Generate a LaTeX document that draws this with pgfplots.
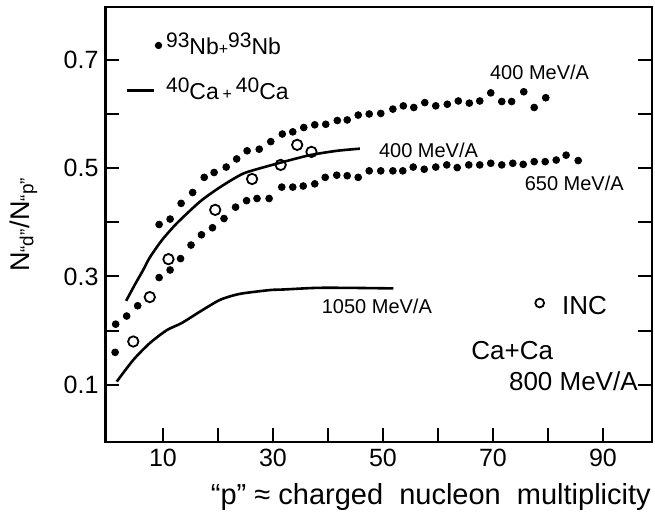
\documentclass[border=0pt]{standalone}
\usepackage{pgfplots}
\pgfplotsset{compat=1.18}
\usepackage{fontspec}
\setmainfont{Liberation Sans}
\newcommand\sups[1]{\raisebox{0.6ex}{\fontsize{10.5}{12}\selectfont #1}}
\begin{document}
\begin{tikzpicture}
\useasboundingbox (-52.75pt,-40.5pt) rectangle (274.75pt,221pt);
\begin{axis}[
  at={(0,0)}, anchor=south west,
  scale only axis, width=273.4pt, height=217.5pt,
  xmin=-0.45, xmax=98.97, ymin=-0.0055, ymax=0.7975,
  axis line style={line width=1.2pt},
  xtick={10,20,30,40,50,60,70,80,90}, xticklabels={10,,30,,50,,70,,90},
  ytick={0.1,0.2,0.3,0.4,0.5,0.6,0.7}, yticklabels={0.1,,0.3,,0.5,,0.7},
  xtick pos=left, ytick pos=both, tick align=inside,
  major tick length=7pt,
  every tick/.style={black, line width=1pt},
  ticklabel style={font=\fontsize{12.5}{14}\selectfont},
  /pgf/number format/assume math mode=true,
  xlabel={``p'' ≈ charged\ \ nucleon\ \ multiplicity},
  every axis x label/.style={at={([yshift=-27.5pt]rel axis cs:0.595,0)}, anchor=center, font=\fontsize{14.5}{16}\selectfont},
  ylabel={N\textsubscript{``d''}/N\textsubscript{``p''}},
  every axis y label/.style={at={([xshift=-41pt]rel axis cs:0,0.5)}, anchor=center, rotate=90, font=\fontsize{13.5}{15}\selectfont},
  legend style={at={(axis cs:2.0,0.765)}, anchor=north west, draw=none, fill=none, font=\fontsize{11.5}{13}\selectfont, row sep=6pt},
  legend cell align=left,
]
% 93Nb+93Nb 400 MeV/A
\addplot[only marks, mark=*, mark size=1.7pt, black,
  legend image code/.code={\path[draw=none, fill=none] (0cm,-1pt) rectangle (0.6cm,1pt); \fill[black] (0.56cm,0pt) circle (1.6pt);}] coordinates {
(9.3,0.396)(11.3,0.406)(13.3,0.435)(15.4,0.455)(17.5,0.483)(19.3,0.492)(21.5,0.502)(23.4,0.517)(25.3,0.532)(27.5,0.535)(29.6,0.549)(31.7,0.563)(33.6,0.567)(35.6,0.575)(37.6,0.580)(39.6,0.581)(41.7,0.588)(43.5,0.589)(45.5,0.598)(47.5,0.600)(49.6,0.601)(51.8,0.609)(53.7,0.615)(55.6,0.612)(57.6,0.621)(59.6,0.615)(61.7,0.618)(63.7,0.624)(65.7,0.620)(67.6,0.624)(69.6,0.639)(71.6,0.623)(73.4,0.623)(75.6,0.641)(77.5,0.612)(79.6,0.630)
};
\addlegendentry{\sups{93}Nb{\fontsize{8}{9}\selectfont+}\sups{93}Nb}
% 40Ca+40Ca 400 MeV/A
\addplot[black, line width=1.3pt, smooth, tension=0.4,
  legend image code/.code={\path[draw=none, fill=none] (0cm,-1pt) rectangle (0.6cm,1pt); \draw[line width=1.3pt] (0cm,0pt) -- (0.48cm,0pt);}] coordinates {
(3.3,0.255)(5.0,0.287)(6.4,0.312)(7.6,0.335)(9.8,0.367)(12.5,0.398)(16.7,0.438)(20.4,0.465)(24.6,0.490)(29.5,0.505)(31.3,0.510)(36.7,0.524)(41.6,0.532)(45.8,0.536)
};
\addlegendentry{\sups{40}Ca\,{\fontsize{8}{9}\selectfont+}\,\sups{40}Ca}
% 93Nb+93Nb 650 MeV/A
\addplot[only marks, mark=*, mark size=1.7pt, black, forget plot] coordinates {
(1.3,0.160)(1.4,0.212)(3.4,0.227)(5.4,0.246)(9.3,0.298)(11.3,0.312)(13.2,0.333)(15.1,0.358)(17.0,0.377)(19.0,0.390)(21.1,0.407)(23.2,0.428)(25.2,0.440)(27.1,0.444)(29.3,0.444)(31.6,0.465)(33.6,0.465)(35.5,0.467)(37.6,0.471)(39.5,0.483)(41.6,0.487)(43.5,0.486)(45.5,0.483)(47.5,0.495)(49.6,0.495)(51.8,0.495)(53.6,0.495)(55.5,0.502)(57.5,0.498)(59.6,0.502)(61.6,0.506)(63.5,0.501)(65.6,0.506)(67.6,0.506)(69.6,0.509)(71.6,0.506)(73.6,0.509)(75.5,0.507)(77.5,0.512)(79.5,0.512)(81.5,0.515)(83.3,0.524)(85.5,0.514)
};
% 40Ca+40Ca 1050 MeV/A
\addplot[black, line width=1.3pt, smooth, tension=0.4, forget plot] coordinates {
(1.6,0.106)(4.6,0.146)(7.6,0.177)(10.7,0.201)(13.4,0.214)(16.7,0.235)(20.4,0.257)(24.0,0.268)(29.5,0.275)(31.9,0.276)(37.9,0.279)(44.0,0.279)(51.9,0.278)
};
% INC, Ca+Ca 800 MeV/A
\addplot[only marks, mark=o, mark size=2.6pt, line width=0.9pt, black, forget plot] coordinates {
(4.6,0.180)(7.6,0.262)(11.0,0.332)(19.5,0.423)(26.2,0.480)(31.4,0.506)(34.4,0.543)(37.0,0.530)
};
\addplot[only marks, mark=o, mark size=2.2pt, line width=0.9pt, black, forget plot] coordinates {(78.5,0.251)};
\node[anchor=west, font=\fontsize{10}{12}\selectfont] at (axis cs:68.2,0.6775) {400 MeV/A};
\node[anchor=west, font=\fontsize{10}{12}\selectfont] at (axis cs:48.0,0.5335) {400 MeV/A};
\node[anchor=west, font=\fontsize{10}{12}\selectfont] at (axis cs:74.5,0.4717) {650 MeV/A};
\node[anchor=west, font=\fontsize{10}{12}\selectfont] at (axis cs:37.6,0.2455) {1050 MeV/A};
\node[anchor=west, font=\fontsize{13}{15}\selectfont] at (axis cs:81.3,0.2455) {INC};
\node[anchor=west, font=\fontsize{13}{15}\selectfont] at (axis cs:64.8,0.164) {Ca+Ca};
\node[anchor=east, font=\fontsize{13}{15}\selectfont] at (axis cs:97.6,0.107) {800 MeV/A};
\end{axis}
\end{tikzpicture}
\end{document}
